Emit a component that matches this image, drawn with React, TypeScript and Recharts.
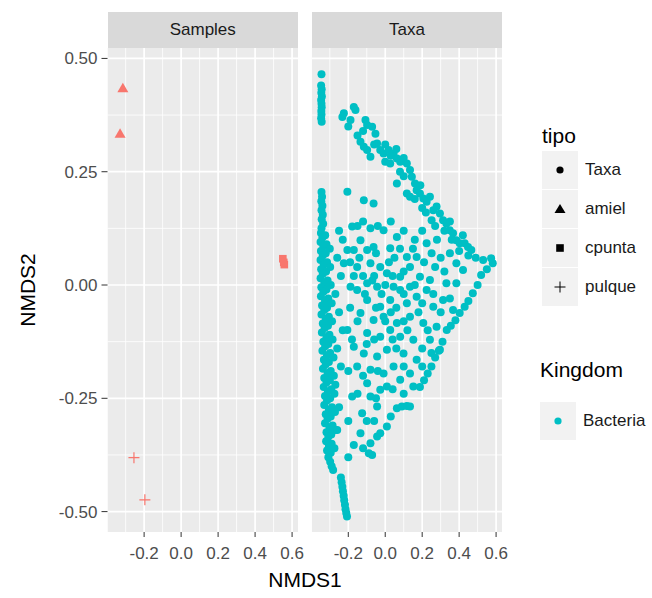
import React from 'react'
import { ScatterChart, Scatter, XAxis, YAxis, ReferenceLine, ReferenceArea } from 'recharts'

const FONT = '"Liberation Sans", Arial, Helvetica, sans-serif'
const RED = '#F8766D'
const TEAL = '#00BFC4'

// axis ticks / grid
const xTicks = [-0.2, 0, 0.2, 0.4, 0.6]
const xMinor = [-0.3, -0.1, 0.1, 0.3, 0.5]
const yTicks = [-0.5, -0.25, 0, 0.25, 0.5]
const yMinor = [-0.375, -0.125, 0.125, 0.375]
const xDomain = [-0.398, 0.632]
const yDomain = [-0.545, 0.523]

// Samples facet
const amiel = [[-0.315, 0.434], [-0.33, 0.334]]
const cpunta = [[0.55, 0.058], [0.558, 0.045], [0.555, 0.05]]
const pulque = [[-0.255, -0.381], [-0.196, -0.474]]

// Taxa facet
const taxaTop = [
  [-0.345, 0.465], [-0.347, 0.44], [-0.344, 0.432], [-0.346, 0.424], [-0.343, 0.416], [-0.347, 0.408],
  [-0.345, 0.4], [-0.344, 0.392], [-0.346, 0.384], [-0.345, 0.376], [-0.347, 0.368], [-0.344, 0.36],
]
const taxaBand = [
  [-0.345, 0.205], [-0.342, 0.195], [-0.346, 0.185], [-0.34, 0.175], [-0.345, 0.165], [-0.338, 0.155],
  [-0.344, 0.145], [-0.336, 0.135], [-0.345, 0.125],
  [-0.348, 0.115], [-0.325, 0.11], [-0.34, 0.105], [-0.35, 0.095], [-0.318, 0.09], [-0.335, 0.085],
  [-0.348, 0.075], [-0.322, 0.07], [-0.338, 0.065], [-0.35, 0.055], [-0.315, 0.05], [-0.333, 0.045],
  [-0.347, 0.035], [-0.32, 0.03], [-0.338, 0.025], [-0.35, 0.015], [-0.312, 0.01], [-0.33, 0.005],
  [-0.346, -0.005], [-0.318, -0.01], [-0.335, -0.015], [-0.348, -0.025], [-0.308, -0.03], [-0.326, -0.035],
  [-0.342, -0.045], [-0.315, -0.05], [-0.33, -0.055], [-0.345, -0.065], [-0.305, -0.07], [-0.322, -0.075],
  [-0.338, -0.085], [-0.31, -0.09], [-0.328, -0.095], [-0.343, -0.105], [-0.302, -0.11], [-0.318, -0.115],
  [-0.335, -0.125], [-0.308, -0.13], [-0.325, -0.135], [-0.34, -0.145], [-0.298, -0.15], [-0.315, -0.155],
  [-0.332, -0.165], [-0.305, -0.17], [-0.322, -0.175], [-0.337, -0.185], [-0.295, -0.19], [-0.312, -0.195],
  [-0.33, -0.205], [-0.3, -0.21], [-0.318, -0.215], [-0.333, -0.225], [-0.292, -0.23], [-0.31, -0.235],
  [-0.326, -0.245], [-0.298, -0.25], [-0.315, -0.255], [-0.33, -0.265], [-0.288, -0.27], [-0.305, -0.275],
  [-0.322, -0.285], [-0.295, -0.29], [-0.312, -0.295], [-0.326, -0.305], [-0.285, -0.31], [-0.302, -0.315],
  [-0.318, -0.325], [-0.292, -0.33], [-0.308, -0.335], [-0.32, -0.345], [-0.29, -0.35], [-0.305, -0.355],
  [-0.315, -0.365], [-0.295, -0.37], [-0.308, -0.38], [-0.298, -0.39],
  [-0.3, 0.08], [-0.298, 0.04], [-0.295, 0.0], [-0.29, -0.04], [-0.288, -0.08], [-0.285, -0.12],
  [-0.28, -0.16], [-0.278, -0.2], [-0.275, -0.24], [-0.272, -0.28], [-0.27, -0.32], [-0.275, -0.36],
  [-0.29, -0.4], [-0.282, -0.408], [-0.24, -0.425], [-0.236, -0.435], [-0.232, -0.445], [-0.229, -0.455],
  [-0.225, -0.465], [-0.222, -0.475], [-0.218, -0.485], [-0.215, -0.495], [-0.211, -0.503], [-0.207, -0.511],
]
const taxaDiag = [
  [-0.224, 0.379], [-0.232, 0.371], [-0.188, 0.364], [-0.17, 0.393], [-0.161, 0.386], [-0.107, 0.364],
  [-0.098, 0.353], [-0.071, 0.349], [-0.053, 0.334], [-0.134, 0.316], [-0.116, 0.305], [-0.098, 0.298],
  [-0.08, 0.283], [-0.044, 0.312], [-0.027, 0.298], [-0.009, 0.29], [0.018, 0.298], [0.045, 0.29],
  [0.063, 0.279], [0.081, 0.272], [0.0, 0.272], [0.027, 0.268], [0.063, 0.224], [0.117, 0.268],
  [0.134, 0.254], [0.144, 0.239], [0.161, 0.224], [0.17, 0.209], [0.117, 0.202], [0.134, 0.195],
  [0.188, 0.202], [0.206, 0.191], [0.224, 0.184], [0.242, 0.195], [0.26, 0.165], [0.278, 0.173],
  [0.296, 0.158], [0.313, 0.143], [0.251, 0.143], [0.331, 0.136], [0.349, 0.121], [0.367, 0.114],
  [0.385, 0.099], [0.403, 0.092], [0.43, 0.092], [0.448, 0.084], [0.466, 0.077],
  [-0.2, 0.35], [-0.15, 0.33], [-0.12, 0.34], [-0.06, 0.31], [0.0, 0.31], [0.03, 0.285], [0.08, 0.25],
  [0.1, 0.24], [0.16, 0.19], [0.2, 0.17], [0.22, 0.16], [0.27, 0.13], [0.32, 0.12], [0.36, 0.1],
  [0.4, 0.075], [0.45, 0.065], [0.49, 0.06], [0.53, 0.055], [0.06, 0.3], [0.1, 0.28], [0.19, 0.22],
  [0.35, 0.14], [0.42, 0.11],
]
const taxaInner = [
  [-0.205, 0.206], [-0.116, 0.187], [-0.063, 0.18], [-0.179, 0.129], [-0.08, 0.125], [-0.009, 0.121],
  [0.063, 0.106], [-0.134, 0.099], [-0.205, 0.077], [-0.17, 0.077], [-0.098, 0.077], [-0.063, 0.084],
  [0.027, 0.081], [0.224, 0.092], [0.17, 0.062], [0.251, 0.07], [0.117, 0.062], [-0.224, 0.048],
  [-0.152, 0.04], [-0.08, 0.048], [-0.027, 0.04], [0.009, 0.026], [0.081, 0.018], [0.134, 0.04],
  [0.188, 0.018], [0.242, 0.011], [0.385, 0.048], [0.421, 0.033], [-0.188, -0.004], [-0.098, 0.004],
  [-0.044, -0.004], [0.045, -0.004], [0.134, -0.004], [0.331, 0.004], [0.385, 0.004],
  [-0.152, -0.011], [-0.098, -0.033], [-0.027, -0.048], [0.027, -0.033], [0.081, -0.011], [0.117, -0.04],
  [0.17, -0.026], [0.224, -0.011], [0.26, -0.048], [0.313, -0.033], [0.367, -0.055],
  [-0.134, -0.062], [-0.063, -0.077], [-0.009, -0.07], [0.063, -0.084], [0.134, -0.07], [0.206, -0.084],
  [0.278, -0.092], [-0.205, -0.099], [-0.098, -0.106], [-0.027, -0.114], [0.027, -0.099], [0.081, -0.114],
  [0.152, -0.121], [0.242, -0.121], [0.296, -0.143], [-0.17, -0.136], [-0.116, -0.151], [-0.044, -0.158],
  [0.009, -0.143], [0.099, -0.151], [0.17, -0.165], [-0.152, -0.18], [-0.08, -0.187], [-0.009, -0.195],
  [0.045, -0.18], [0.134, -0.195], [-0.098, -0.217], [0.009, -0.224], [0.081, -0.209], [0.152, -0.224],
  [-0.179, -0.246], [-0.08, -0.246], [-0.027, -0.231], [0.063, -0.272], [0.09, -0.268], [0.117, -0.267],
  [0.134, -0.268], [-0.125, -0.283], [-0.044, -0.268], [0.009, -0.312], [-0.027, -0.327], [-0.134, -0.327],
  [-0.17, -0.353], [-0.08, -0.349], [-0.044, -0.334], [-0.089, -0.371], [-0.071, -0.375],
  [-0.06, 0.02], [-0.02, -0.02], [0.02, 0.05], [0.06, -0.05], [0.1, 0.03], [-0.12, 0.02], [0.04, -0.12],
  [-0.25, 0.12], [-0.23, 0.1], [-0.26, 0.06], [-0.24, 0.02], [-0.27, -0.02], [-0.25, -0.06], [-0.23, -0.1],
  [-0.26, -0.14], [-0.24, -0.18], [-0.27, -0.22], [-0.25, -0.27], [-0.26, -0.32],
  [-0.15, 0.13], [-0.12, 0.14], [-0.04, 0.13], [0.03, 0.14], [0.1, 0.12], [0.16, 0.1], [0.2, 0.12],
  [0.28, 0.1], [0.3, 0.06], [0.35, 0.07],
  [-0.19, 0.05], [-0.14, 0.06], [-0.05, 0.07], [0.05, 0.06], [0.08, 0.08], [0.15, 0.08], [0.21, 0.05],
  [0.27, 0.04], [0.32, 0.03],
  [-0.17, 0.02], [-0.11, -0.02], [-0.07, 0.01], [0.0, 0.0], [0.04, 0.02], [0.1, -0.02], [0.16, 0.0],
  [0.2, -0.04], [0.26, -0.02], [0.3, -0.06], [0.35, -0.03],
  [-0.19, -0.05], [-0.15, -0.08], [-0.05, -0.05], [0.0, -0.08], [0.03, -0.06], [0.1, -0.08], [0.18, -0.06],
  [0.23, -0.1],
  [-0.18, -0.12], [-0.1, -0.13], [-0.06, -0.12], [0.06, -0.14], [0.12, -0.1], [0.2, -0.14], [0.25, -0.15],
  [-0.2, -0.19], [-0.12, -0.2], [-0.04, -0.19], [0.1, -0.18], [0.2, -0.18],
  [-0.15, -0.24], [-0.05, -0.25], [0.04, -0.23], [0.1, -0.24],
  [-0.2, -0.3], [-0.1, -0.3], [-0.06, -0.3], [0.03, -0.29],
  [-0.2, -0.38], [-0.12, -0.36],
]
const taxaEdge = [
  [0.573, 0.059], [0.582, 0.048], [0.55, 0.035], [0.519, 0.022], [0.5, 0.0], [0.474, -0.018],
  [0.45, -0.035], [0.43, -0.048], [0.403, -0.062], [0.38, -0.078], [0.355, -0.09], [0.333, -0.099],
  [0.31, -0.125], [0.29, -0.145], [0.27, -0.16], [0.25, -0.18], [0.23, -0.195], [0.21, -0.21], [0.188, -0.225],
]

const toPts = (a: number[][]) => a.map(([x, y]) => ({ x, y }))
const taxaPts = toPts([...taxaTop, ...taxaBand, ...taxaDiag, ...taxaInner, ...taxaEdge])

const tickStyle = { fill: '#4D4D4D', fontSize: 17, fontFamily: FONT }

function Circle({ cx, cy }: any) {
  return <circle cx={cx} cy={cy} r={4} fill={TEAL} />
}
function Tri({ cx, cy }: any) {
  return <polygon points={`${cx},${cy - 5.5} ${cx + 5.5},${cy + 4} ${cx - 5.5},${cy + 4}`} fill={RED} />
}
function Sq({ cx, cy }: any) {
  return <rect x={cx - 3.8} y={cy - 3.8} width={7.6} height={7.6} fill={RED} />
}
function Plus({ cx, cy }: any) {
  return (
    <g stroke={RED} strokeWidth={1.2}>
      <line x1={cx - 5.5} y1={cy} x2={cx + 5.5} y2={cy} />
      <line x1={cx} y1={cy - 5.5} x2={cx} y2={cy + 5.5} />
    </g>
  )
}

function panelBits() {
  return [
    <ReferenceArea key="bg" x1={xDomain[0]} x2={xDomain[1]} y1={yDomain[0]} y2={yDomain[1]}
      fill="#EBEBEB" fillOpacity={1} stroke="none" ifOverflow="hidden" />,
    ...xMinor.map(v => <ReferenceLine key={'xm' + v} x={v} stroke="#FFFFFF" strokeWidth={0.8} />),
    ...yMinor.map(v => <ReferenceLine key={'ym' + v} y={v} stroke="#FFFFFF" strokeWidth={0.8} />),
    ...xTicks.map(v => <ReferenceLine key={'xM' + v} x={v} stroke="#FFFFFF" strokeWidth={1.7} />),
    ...yTicks.map(v => <ReferenceLine key={'yM' + v} y={v} stroke="#FFFFFF" strokeWidth={1.7} />),
  ]
}

function xAxisEl() {
  return (
    <XAxis type="number" dataKey="x" domain={xDomain} allowDataOverflow ticks={xTicks}
      tickFormatter={(v: number) => v.toFixed(1)} tick={tickStyle} axisLine={false}
      tickLine={{ stroke: '#333333' }} tickSize={5} tickMargin={10} height={30} interval={0} />
  )
}

function Strip({ left, label }: { left: number; label: string }) {
  return (
    <div style={{
      position: 'absolute', left, top: 12, width: 190.5, height: 36, background: '#D9D9D9',
      display: 'flex', alignItems: 'center', justifyContent: 'center',
      fontSize: 17, color: '#1A1A1A', fontFamily: FONT,
    }}>{label}</div>
  )
}

function Key({ children }: { children: React.ReactNode }) {
  return (
    <svg width={36} height={38} style={{ display: 'block' }}>
      <rect width={36} height={38} fill="#F2F2F2" />
      {children}
    </svg>
  )
}

const tipoKeys: [string, React.ReactNode][] = [
  ['Taxa', <circle cx={18} cy={19} r={3.6} fill="#000" />],
  ['amiel', <polygon points="18,14 23.5,23 12.5,23" fill="#000" />],
  ['cpunta', <rect x={14.2} y={15.2} width={7.6} height={7.6} fill="#000" />],
  ['pulque', <g stroke="#000" strokeWidth={1}><line x1={12.5} y1={19} x2={23.5} y2={19} /><line x1={18} y1={13.5} x2={18} y2={24.5} /></g>],
]

export default function App() {
  return (
    <div style={{ position: 'absolute', left: 0, top: 0, width: 652, height: 598, background: '#fff', fontFamily: FONT }}>
      <div style={{ position: 'absolute', left: 0, top: 0 }}>
        <ScatterChart width={312} height={598} margin={{ top: 48, right: 14, bottom: 36, left: 0 }}>
          {xAxisEl()}
          <YAxis type="number" dataKey="y" domain={yDomain} allowDataOverflow ticks={yTicks}
            tickFormatter={(v: number) => v.toFixed(2)} tick={tickStyle} axisLine={false}
            tickLine={{ stroke: '#333333' }} tickSize={6} tickMargin={4} width={107.5} interval={0} />
          {panelBits()}
          <Scatter data={toPts(amiel)} shape={Tri} isAnimationActive={false} />
          <Scatter data={toPts(cpunta)} shape={Sq} isAnimationActive={false} />
          <Scatter data={toPts(pulque)} shape={Plus} isAnimationActive={false} />
        </ScatterChart>
      </div>
      <div style={{ position: 'absolute', left: 300, top: 0 }}>
        <ScatterChart width={218} height={598} margin={{ top: 48, right: 16, bottom: 36, left: 11.7 }}>
          {xAxisEl()}
          <YAxis type="number" dataKey="y" domain={yDomain} allowDataOverflow hide />
          {panelBits()}
          <Scatter data={taxaPts} shape={Circle} isAnimationActive={false} />
        </ScatterChart>
      </div>
      <Strip left={107.5} label="Samples" />
      <Strip left={311.7} label="Taxa" />
      <div style={{
        position: 'absolute', left: 28, top: 290, transform: 'translate(-50%, -50%) rotate(-90deg)',
        fontSize: 21, color: '#000', whiteSpace: 'nowrap',
      }}>NMDS2</div>
      <div style={{
        position: 'absolute', left: 305, top: 580, transform: 'translate(-50%, -50%)',
        fontSize: 21, color: '#000',
      }}>NMDS1</div>
      <div style={{ position: 'absolute', left: 542, top: 122 }}>
        <div style={{ fontSize: 21, color: '#000', height: 28, lineHeight: '28px' }}>tipo</div>
        {tipoKeys.map(([label, sym]) => (
          <div key={label} style={{ display: 'flex', alignItems: 'center', height: 39 }}>
            <Key>{sym}</Key>
            <span style={{ fontSize: 17, color: '#1A1A1A', marginLeft: 7 }}>{label}</span>
          </div>
        ))}
      </div>
      <div style={{ position: 'absolute', left: 540, top: 356 }}>
        <div style={{ fontSize: 21, color: '#000', height: 46, lineHeight: '28px' }}>Kingdom</div>
        <div style={{ display: 'flex', alignItems: 'center', height: 38 }}>
          <Key><circle cx={18} cy={19} r={3.6} fill={TEAL} /></Key>
          <span style={{ fontSize: 17, color: '#1A1A1A', marginLeft: 7 }}>Bacteria</span>
        </div>
      </div>
    </div>
  )
}
